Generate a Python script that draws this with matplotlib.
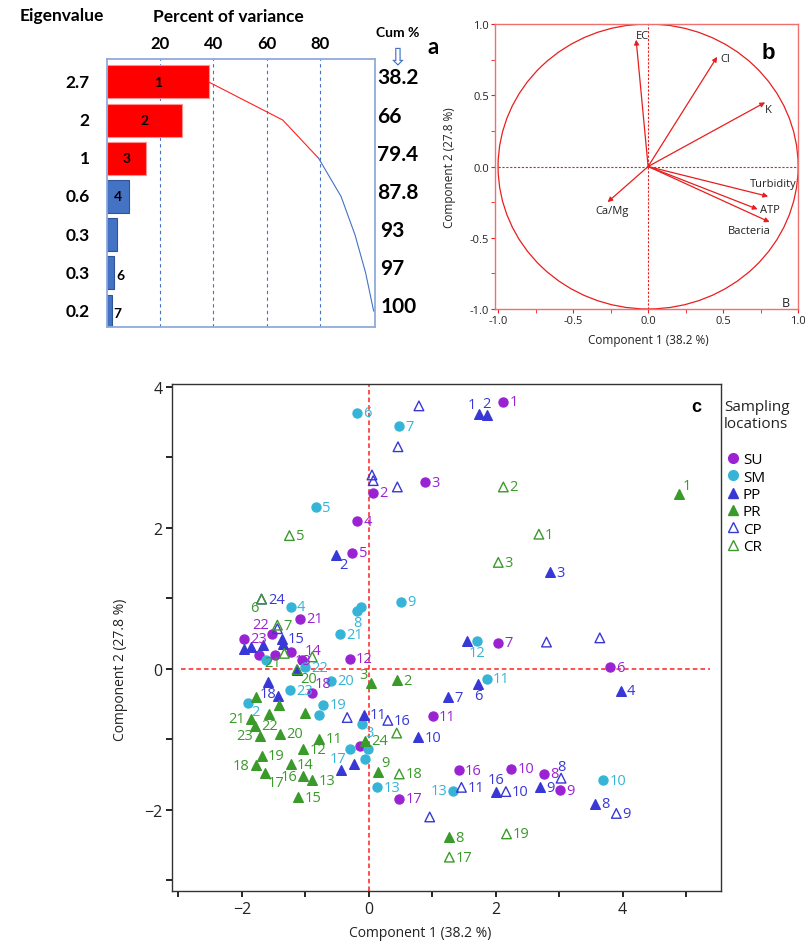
import numpy as np
import matplotlib
matplotlib.use("Agg")
import matplotlib.pyplot as plt
from matplotlib.lines import Line2D
from matplotlib.patches import Circle
from matplotlib.ticker import MultipleLocator

plt.rcParams['font.family'] = ['Open Sans', 'DejaVu Sans']

# ---- panel a : scree ----
comp = [1, 2, 3, 4, 5, 6, 7]
pct_var = [38.5, 28.2, 14.8, 8.3, 3.8, 2.8, 1.9]
cum_pct = [38.2, 66, 79.4, 87.8, 93, 97, 100]
eigen = ['2.7', '2', '1', '0.6', '0.3', '0.3', '0.2']
bar_tags = ['1', '2', '3', '4', '', '6', '7']

# ---- panel b : loadings ----
var_names = ['EC', 'Cl', 'K', 'Turbidity', 'ATP', 'Bacteria', 'Ca/Mg']
load1 = [-0.08, 0.46, 0.78, 0.80, 0.73, 0.81, -0.27]
load2 = [0.89, 0.77, 0.45, -0.21, -0.30, -0.39, -0.25]

# ---- panel c : scores ----
su_x = [2.12, 0.06, 0.88, -0.18, -0.26, 3.80, 2.04, 2.76, 3.01, 2.24, 1.01, -0.30, -1.22, -1.06,
        1.42, 0.48, -0.90, -1.09, -1.52, -1.97, -1.73, -1.48, -0.14]
su_y = [3.79, 2.50, 2.65, 2.09, 1.65, 0.02, 0.37, -1.49, -1.72, -1.42, -0.67, 0.14, 0.24, 0.13,
        -1.44, -1.84, -0.34, 0.71, 0.50, 0.43, 0.20, 0.20, -1.10]
su_lab = ['1', '2', '3', '4', '5', '6', '7', '8', '9', '10', '11', '12', '13', '14',
          '16', '17', '18', '21', '22', '23', '', '', '']

sm_x = [-0.18, 0.48, -0.83, -1.23, -0.18, -0.12, 0.51, -0.45, 1.70, 1.86, -1.01, -1.62, -0.59, -1.24,
        -1.91, -0.72, -0.78, -0.11, -0.29, -0.01, -0.06, 0.13, 1.33, 3.69]
sm_y = [3.63, 3.44, 2.29, 0.88, 0.82, 0.88, 0.95, 0.49, 0.40, -0.14, 0.02, 0.13, -0.17, -0.30,
        -0.48, -0.51, -0.65, -0.78, -1.14, -1.14, -1.28, -1.68, -1.73, -1.58]
sm_lab = ['6', '7', '5', '4', '8', '', '9', '21', '12', '11', '22', '', '20', '23',
          '2', '19', '', '3', '17', '', '', '13', '13', '10']

pp_x = [1.74, 1.86, -0.52, 2.85, 3.97, 1.72, 1.25, 3.57, 2.69, 0.78, -0.08, -1.37, 2.00, -1.59,
        1.54, -1.97, -1.85, -1.67, -1.35, -1.13, -1.43, -0.44, -0.24]
pp_y = [3.62, 3.60, 1.61, 1.37, -0.31, -0.21, -0.40, -1.91, -1.68, -0.97, -0.65, 0.43, -1.74, -0.19,
        0.40, 0.28, 0.31, 0.34, 0.35, -0.01, -0.38, -1.44, -1.35]
pp_lab = ['1', '2', '2', '3', '4', '6', '7', '8', '9', '10', '11', '15', '16', '18',
          '', '', '', '', '', '', '', '', '']

pr_x = [4.89, 0.44, 0.04, 1.27, 0.14, -0.78, -1.03, -0.89, -1.23, -1.11, -1.03, -1.64, -1.78, -1.69,
        -1.40, -1.85, -1.80, -1.72, -0.06, -1.77, -1.41, -1.57, -1.01]
pr_y = [2.48, -0.16, -0.20, -2.39, -1.46, -0.99, -1.14, -1.58, -1.35, -1.82, -1.52, -1.48, -1.37, -1.23,
        -0.92, -0.71, -0.81, -0.95, -1.02, -0.40, -0.51, -0.64, -0.62]
pr_lab = ['1', '2', '3', '8', '9', '11', '12', '13', '14', '15', '16', '17', '18', '19',
          '20', '21', '22', '23', '24', '', '', '', '']

cp_x = [0.79, 0.46, 0.05, 0.07, 0.45, -1.69, 2.80, 3.64, -1.44, -0.34, 0.30, 0.96, 1.46, 2.16, 3.03, 3.90]
cp_y = [3.73, 3.15, 2.75, 2.67, 2.58, 0.99, 0.38, 0.44, 0.57, -0.69, -0.73, -2.10, -1.68, -1.74, -1.55, -2.05]
cp_lab = ['', '', '', '', '', '24', '', '', '', '', '16', '', '11', '10', '8', '9']

cr_x = [-1.25, 2.12, 2.68, 2.04, -1.69, -1.44, -1.33, -0.89, 0.44, 0.48, 1.27, 2.17, -1.13]
cr_y = [1.89, 2.58, 1.91, 1.51, 0.99, 0.62, 0.22, 0.17, -0.91, -1.49, -2.67, -2.34, -0.01]
cr_lab = ['5', '2', '1', '3', '6', '7', '21', '', '', '18', '17', '19', '20']

# label side exceptions (default: right of marker)
side = {('SU', 12): 'br', ('SU', 13): 'ar', ('SU', 16): 'ar', ('SU', 18): 'al',
        ('SM', 4): 'b', ('SM', 8): 'b', ('SM', 14): 'br', ('SM', 17): 'br', ('SM', 18): 'bl',
        ('SM', 22): 'l',
        ('PP', 0): 'al', ('PP', 1): 'a', ('PP', 2): 'br', ('PP', 5): 'b', ('PP', 12): 'a', ('PP', 13): 'b',
        ('PR', 0): 'ar', ('PR', 2): 'al', ('PR', 4): 'ar', ('PR', 10): 'l', ('PR', 11): 'br',
        ('PR', 12): 'l', ('PR', 15): 'l', ('PR', 17): 'l',
        ('CP', 14): 'a',
        ('CR', 4): 'bl', ('CR', 6): 'bl', ('CR', 12): 'br'}
offs = {'r': ((4.5, 0), 'left', 'center'), 'l': ((-4.5, 0), 'right', 'center'),
        'a': ((0, 3), 'center', 'bottom'), 'b': ((0, -3), 'center', 'top'),
        'ar': ((2.5, 1), 'left', 'bottom'), 'al': ((-2.5, 1), 'right', 'bottom'),
        'br': ((2.5, -1), 'left', 'top'), 'bl': ((-2.5, -1), 'right', 'top')}

purple = '#9B22D3'
cyan = '#36B4D8'
blue = '#3838D6'
green = '#3A9A2A'

fig = plt.figure(figsize=(8.05, 9.45), dpi=100)

# ================= panel a =================
axa = fig.add_axes([0.1323, 0.6529, 0.3335, 0.2836])
bcol = ['#FF0000'] * 3 + ['#4472C4'] * 4
ecol = ['#FF9090'] * 3 + ['#2F5597'] * 4
axa.barh(comp, pct_var, height=0.86, color=bcol, edgecolor=ecol, linewidth=0.8, zorder=2)
axa.set_xlim(0, 100.5)
axa.set_ylim(7.42, 0.4)
for g in [20, 40, 60, 80]:
    axa.axvline(g, color='#4472C4', lw=0.8, ls=(0, (3, 3)), zorder=1)
axa.plot(cum_pct[:3], comp[:3], color='#FF2020', lw=0.8, zorder=3)
axa.plot(cum_pct[2:], comp[2:], color='#4472C4', lw=0.8, zorder=3)
for sp in axa.spines.values():
    sp.set_color('#8FAADC')
    sp.set_linewidth(1.3)
axa.xaxis.tick_top()
axa.set_xticks([20, 40, 60, 80])
axa.set_xticklabels(['20', '40', '60', '80'], fontsize=12, fontweight='bold', family='Lato')
axa.tick_params(axis='x', length=0, pad=6)
axa.set_yticks([])
for i, c in enumerate(comp):
    t = bar_tags[i]
    if t:
        if pct_var[i] > 5:
            axa.text(pct_var[i] / 2, c, t, ha='center', va='center', fontsize=10,
                     fontweight='bold', family='Lato', zorder=4)
        else:
            axa.text(pct_var[i] + 0.8, c + 0.05, t, ha='left', va='center', fontsize=10,
                     fontweight='bold', family='Lato', zorder=4)
    axa.text(-0.062, c, eigen[i], transform=axa.get_yaxis_transform(), ha='right', va='center',
             fontsize=12.5, fontweight='bold', family='Lato')
    axa.text(1.008 if i < 4 else 1.02, c - 0.12, f'{cum_pct[i]:g}', transform=axa.get_yaxis_transform(),
             ha='left', va='center', fontsize=15, fontweight='bold', family='Lato', clip_on=False)
fig.text(62 / 805, 1 - 16 / 945, 'Eigenvalue', ha='center', va='center', fontsize=12.5,
         fontweight='bold', family='Lato')
fig.text(228 / 805, 1 - 17 / 945, 'Percent of variance', ha='center', va='center', fontsize=12.5,
         fontweight='bold', family='Lato')
fig.text(398 / 805, 1 - 33 / 945, 'Cum %', ha='center', va='center', fontsize=10,
         fontweight='bold', family='Lato')
fig.text(398 / 805, 1 - 57 / 945, '\u21e9', ha='center', va='center', fontsize=17,
         color='#4472C4', family='DejaVu Sans')
fig.text(433 / 805, 1 - 47 / 945, 'a', ha='center', va='center', fontsize=16,
         fontweight='bold', family='Lato')

# ================= panel b =================
red = '#E81E1E'
axb = fig.add_axes([0.615, 0.672, 0.3765, 0.3015])
axb.set_xlim(-1.02, 1.0)
axb.set_ylim(-1.0, 1.0)
axb.add_patch(Circle((0, 0), 1.0, fill=False, edgecolor=red, lw=0.9))
axb.axhline(0, color=red, lw=0.8, ls=(0, (2, 1.5)), xmin=0.01, xmax=1)
axb.axvline(0, color=red, lw=0.8, ls=(0, (2, 1.5)))
lab_off = [((0, 3), 'left'), ((2, -1), 'left'), ((0, -5), 'left'), ((4, 9), 'center'),
           ((2, 0), 'left'), ((-15, -6), 'center'), ((3, -6), 'center')]
for i, nm in enumerate(var_names):
    axb.annotate('', xy=(load1[i], load2[i]), xytext=(0, 0),
                 arrowprops=dict(arrowstyle='-|>', color=red, lw=0.9, mutation_scale=7,
                                 shrinkA=0, shrinkB=0))
    (dx, dy), ha = lab_off[i]
    axb.annotate(nm, (load1[i], load2[i]), xytext=(dx, dy), textcoords='offset points',
                 ha=ha, va='center', fontsize=8, color='#222222')
axb.text(0.92, -0.955, 'B', ha='center', va='center', fontsize=9, color='#222222')
axb.text(0.9, 0.9, 'b', transform=axb.transAxes, ha='center', va='center', fontsize=16,
         fontweight='bold', family='Liberation Sans')
for sp in axb.spines.values():
    sp.set_color('#F07070')
    sp.set_linewidth(1.0)
axb.xaxis.set_minor_locator(MultipleLocator(0.25))
axb.yaxis.set_minor_locator(MultipleLocator(0.25))
axb.set_xticks([-1.0, -0.5, 0.0, 0.5, 1.0])
axb.set_xticklabels(['-1.0', '-0.5', '0.0', '0.5', '1.0'])
axb.set_yticks([-1.0, -0.5, 0.0, 0.5, 1.0])
axb.set_yticklabels(['-1.0', '-0.5', '0.0', '0.5', '1.0'])
axb.tick_params(which='both', color=red, labelsize=8, labelcolor='#222222', pad=1.5, length=3)
axb.set_xlabel('Component 1 (38.2 %)', fontsize=8.5, color='#222222')
axb.set_ylabel('Component 2 (27.8 %)', fontsize=8.5, color='#222222')
axb.xaxis.set_label_coords(0.505, -0.085)
axb.yaxis.set_label_coords(-0.13, 0.5)

# ================= panel c =================
axc = fig.add_axes([0.2137, 0.0561, 0.682, 0.5365])
axc.set_xlim(-3.1, 5.55)
axc.set_ylim(-3.15, 4.04)
axc.axvline(0, color='#FF2020', lw=1.1, ls=(0, (3, 2)), zorder=1)
axc.axhline(0, color='#FF2020', lw=1.1, ls=(0, (3, 2)), xmin=0.017, xmax=0.98, zorder=1)

groups = [
    ('SU', su_x, su_y, su_lab, 'o', purple, purple, purple),
    ('SM', sm_x, sm_y, sm_lab, 'o', cyan, cyan, cyan),
    ('PP', pp_x, pp_y, pp_lab, '^', blue, blue, blue),
    ('PR', pr_x, pr_y, pr_lab, '^', green, green, green),
    ('CP', cp_x, cp_y, cp_lab, '^', 'none', blue, blue),
    ('CR', cr_x, cr_y, cr_lab, '^', 'none', green, green),
]
handles = []
for name, xs, ys, labs, mk, fc, ec, tc in groups:
    axc.scatter(xs, ys, marker=mk, s=42 if mk == 'o' else 48, facecolors=fc, edgecolors=ec,
                linewidths=1.0, zorder=3)
    for i, lab in enumerate(labs):
        if not lab:
            continue
        off, ha, va = offs[side.get((name, i), 'r')]
        axc.annotate(lab, (xs[i], ys[i]), xytext=off, textcoords='offset points',
                     ha=ha, va=va, fontsize=10.5, color=tc, zorder=4)
    handles.append(Line2D([], [], ls='none', marker=mk, markersize=7 if mk == 'o' else 7.5,
                          markerfacecolor=fc, markeredgecolor=ec, markeredgewidth=1.0, label=name))

for sp in axc.spines.values():
    sp.set_color('#333333')
    sp.set_linewidth(1.0)
axc.set_xticks([-2, 0, 2, 4])
axc.set_yticks([-2, 0, 2, 4])
axc.xaxis.set_minor_locator(MultipleLocator(1))
axc.yaxis.set_minor_locator(MultipleLocator(1))
axc.tick_params(which='both', length=4, width=1.2, labelsize=11.5, labelcolor='#222222', pad=3)
axc.set_xlabel('Component 1 (38.2 %)', fontsize=10, color='#222222')
axc.set_ylabel('Component 2 (27.8 %)', fontsize=10, color='#222222')
axc.xaxis.set_label_coords(0.452, -0.068)
axc.yaxis.set_label_coords(-0.08, 0.438)
axc.text(0.955, 0.955, 'c', transform=axc.transAxes, ha='center', va='center', fontsize=13,
         fontweight='bold', family='Liberation Sans')

fig.text(724 / 805, 1 - 416 / 945, 'Sampling\nlocations', ha='left', va='center', fontsize=11,
         color='#222222', linespacing=1.25)
axc.legend(handles=handles, loc='upper left', bbox_to_anchor=(1.012, 0.865), frameon=False,
           fontsize=11, handlelength=0.7, handletextpad=0.3, labelspacing=0.15,
           borderpad=0, borderaxespad=0)

fig.savefig('out.png', dpi=100)
